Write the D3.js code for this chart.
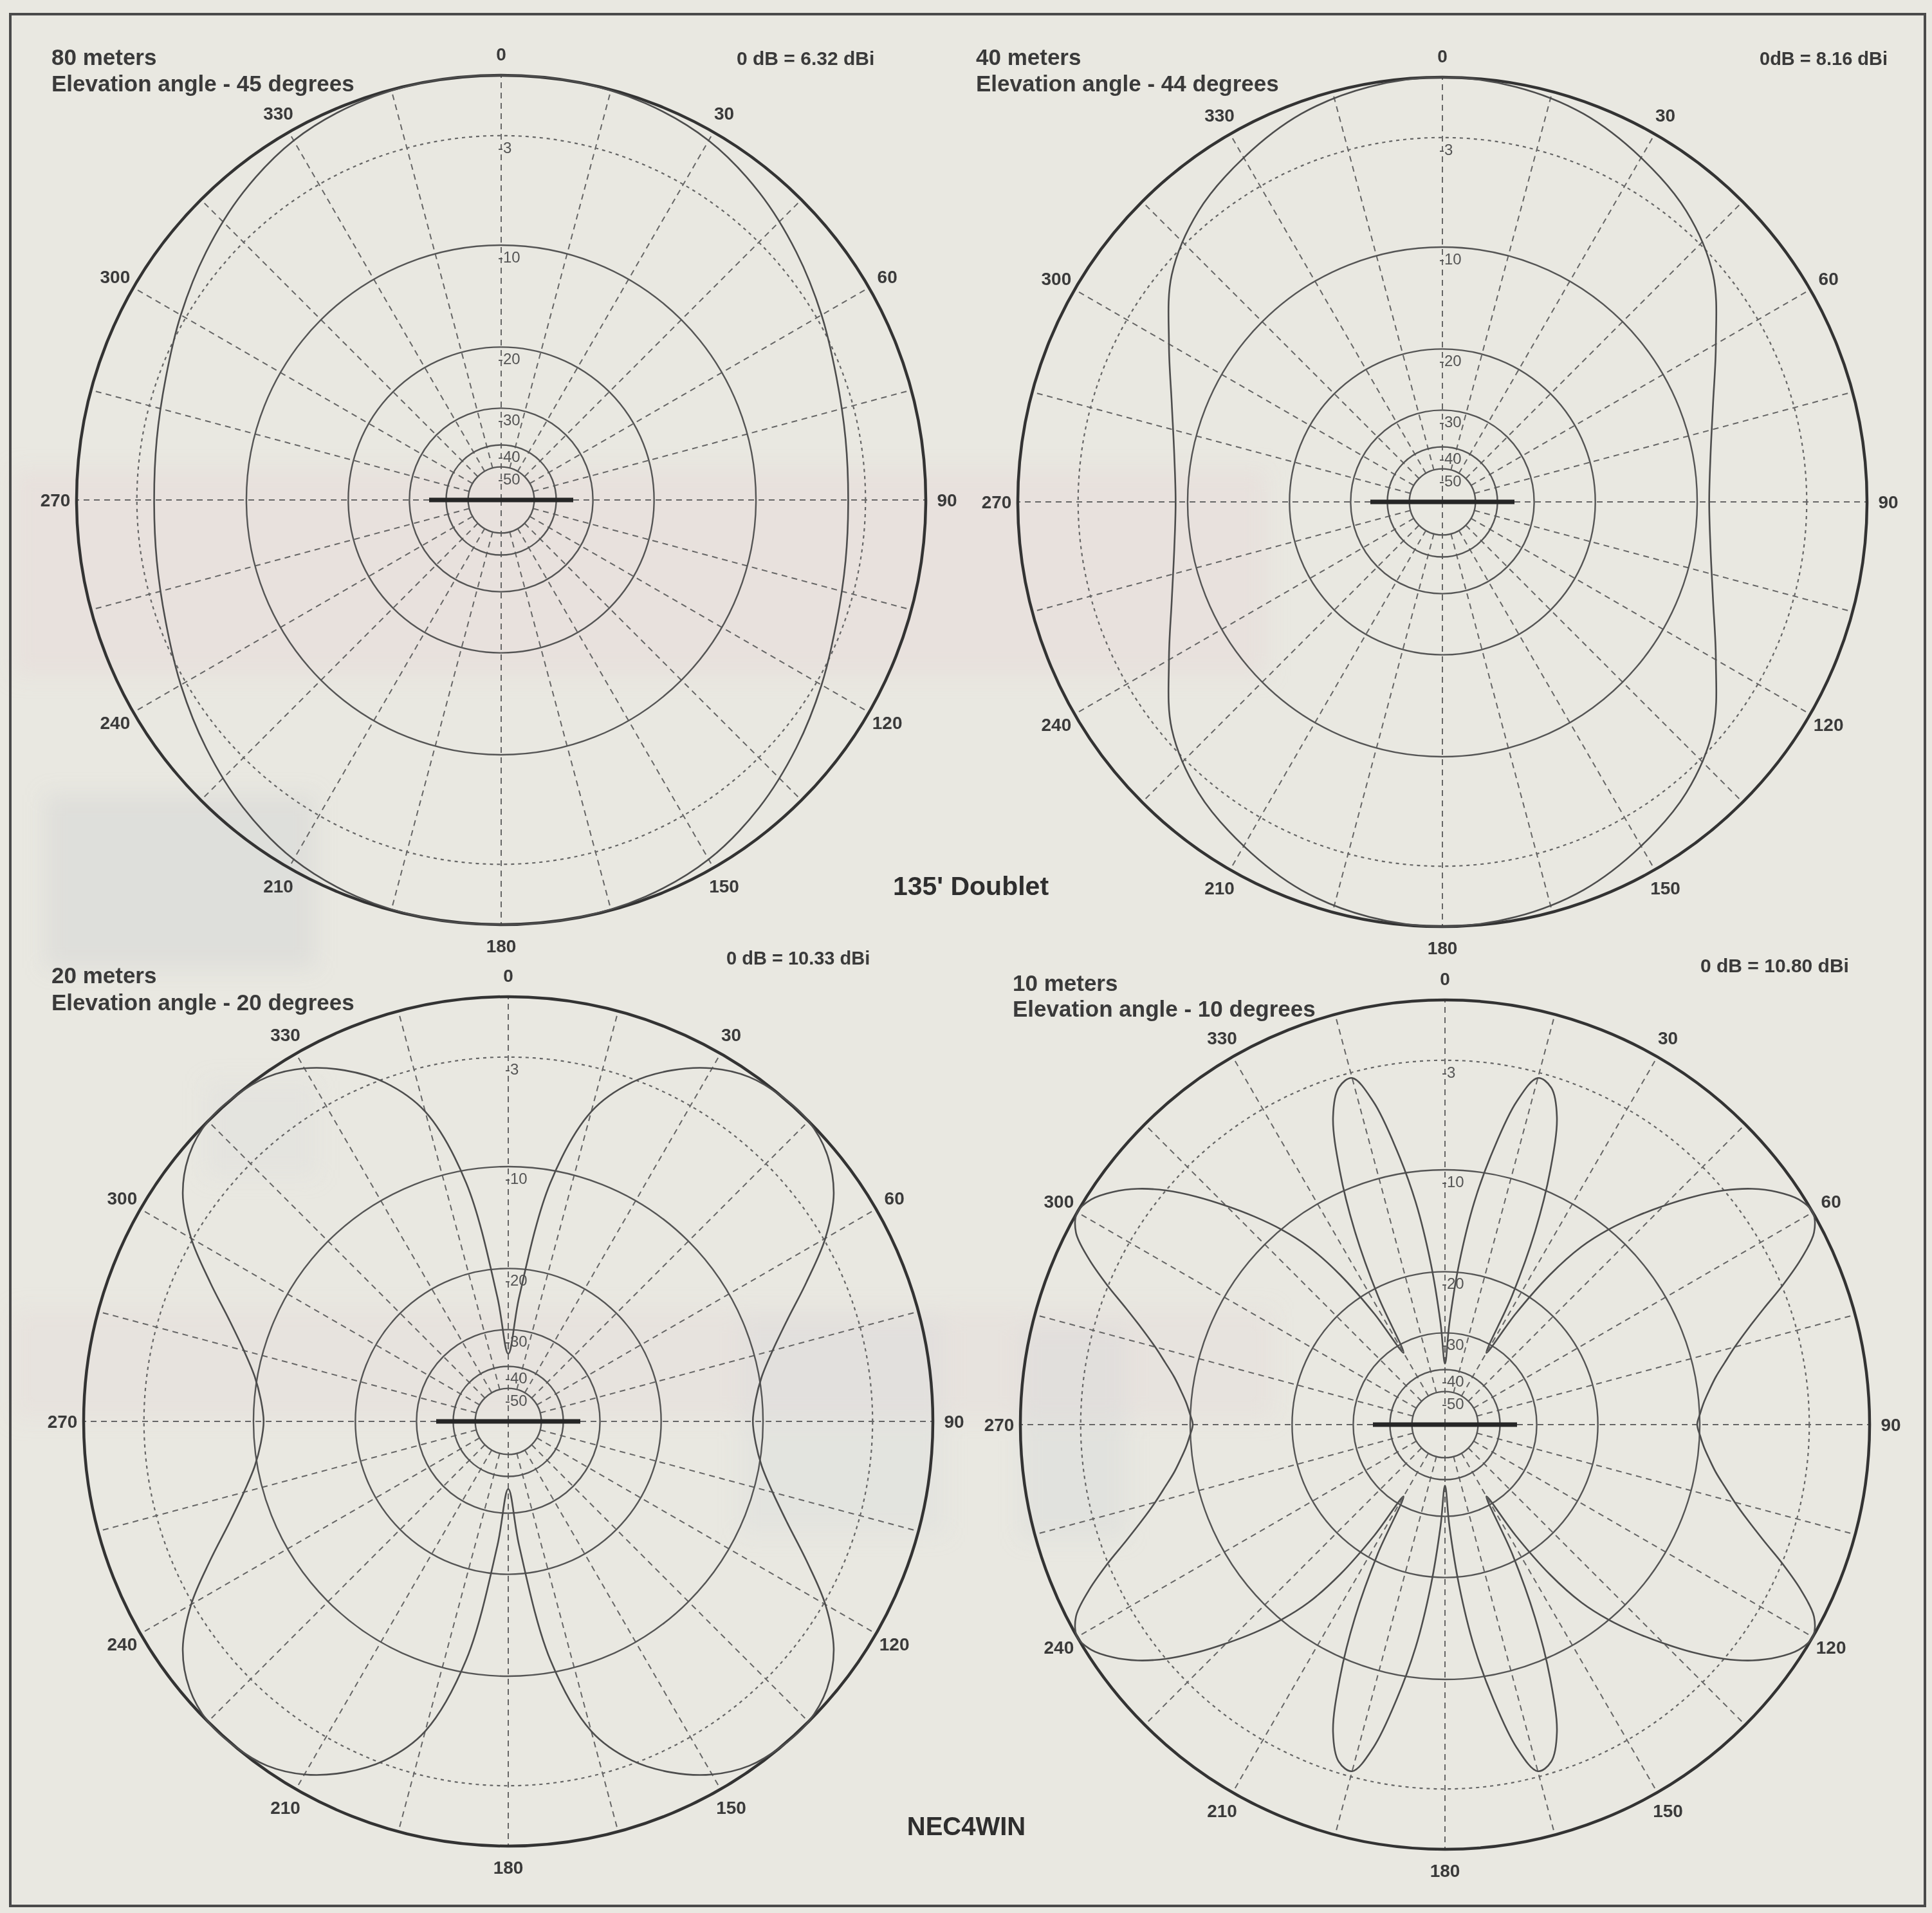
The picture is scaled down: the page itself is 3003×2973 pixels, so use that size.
<!DOCTYPE html>
<html>
<head>
<meta charset="utf-8">
<script src="https://cdn.jsdelivr.net/npm/d3@7"></script>
<style>
  html, body { margin: 0; padding: 0; background: #e9e8e1; }
  svg { display: block; }
</style>
</head>
<body>
<svg id="chart" width="3003" height="2973"></svg>
<script>
// ---------------------------------------------------------------------------
// Azimuth patterns of a 135' doublet, computed with NEC4WIN, one panel per band.
// Gains are in dB relative to each band's maximum (0 dB ring).
// ---------------------------------------------------------------------------

const figureTitle = "135' Doublet";
const softwareName = "NEC4WIN";

const bandNames  = ["80 meters", "40 meters", "20 meters", "10 meters"];
const elevations = ["Elevation angle - 45 degrees", "Elevation angle - 44 degrees",
                    "Elevation angle - 20 degrees", "Elevation angle - 10 degrees"];
const zeroRefs   = ["0 dB = 6.32 dBi", "0dB = 8.16 dBi", "0 dB = 10.33 dBi", "0 dB = 10.80 dBi"];

// Grid: level rings (dB) and azimuth ticks (degrees, 0 = top, clockwise)
const ringLevels   = [-3, -10, -20, -30, -40, -50];
const ringLabels   = ["-3", "-10", "-20", "-30", "-40", "-50"];
const spokeAngles  = [0, 15, 30, 45, 60, 75, 90, 105, 120, 135, 150, 165,
                      180, 195, 210, 225, 240, 255, 270, 285, 300, 315, 330, 345];
const azimuthTicks = [0, 30, 60, 90, 120, 150, 180, 210, 240, 270, 300, 330];

// Each pattern is symmetric about both axes: one quadrant (0..90 deg) is listed.
const az80   = [0, 10, 20, 30, 40, 50, 60, 70, 80, 90];
const gain80 = [0, 0, -0.12, -0.45, -1.1, -1.9, -2.7, -3.4, -3.8, -3.95];

const az40   = [0, 10, 20, 30, 40, 50, 60, 70, 80, 90];
const gain40 = [0, -0.15, -0.55, -1.3, -2.2, -3.6, -5.8, -7.6, -8.7, -9.1];

const az20   = [0, 5, 10, 15, 20, 25, 30, 35, 40, 45, 50, 55, 60, 65, 70, 75, 80, 85, 90];
const gain20 = [-36, -24, -11, -5.5, -3.2, -1.8, -0.8, -0.2, 0, 0, -0.4, -1.3,
                -2.9, -5, -7, -8.6, -9.8, -10.5, -10.8];

const az10   = [0, 2.5, 5, 7.5, 10, 12.5, 15, 17.5, 20, 22.5, 25, 27.5, 30, 32.5, 35, 37.5,
                40, 42.5, 45, 47.5, 50, 52.5, 55, 57.5, 60, 62.5, 65, 67.5, 70, 72.5, 75,
                77.5, 80, 82.5, 85, 87.5, 90];
const gain10 = [-38, -28, -19, -12.5, -8.2, -4.9, -3.3, -3.6, -5.1, -8.5, -13.5, -21, -32,
                -23, -16.5, -12.5, -10, -8, -6.2, -4.5, -3.0, -1.8, -0.9, -0.25, 0, -0.4,
                -1.5, -2.9, -4.4, -5.7, -6.8, -7.7, -8.5, -9.1, -9.6, -9.95, -10.2];

const patternAz    = [az80, az40, az20, az10];
const patternGains = [gain80, gain40, gain20, gain10];

// ---------------------------------------------------------------------------
// Layout
// ---------------------------------------------------------------------------
const R = 660;                       // radius of the 0 dB ring
const panels = [
  { cx: 779,  cy: 777,  name: [80, 101],    elev: [80, 142],    ref: [1145, 101], refSize: 30 },
  { cx: 2242, cy: 780,  name: [1517, 101],  elev: [1517, 142],  ref: [2735, 101], refSize: 29 },
  { cx: 790,  cy: 2209, name: [80, 1528],   elev: [80, 1570],   ref: [1129, 1499], refSize: 29 },
  { cx: 2246, cy: 2214, name: [1574, 1540], elev: [1574, 1580], ref: [2643, 1511], refSize: 30 }
];

// faint tone patches of the printed page showing through behind the figure
const paperTones = [
  { x: 20,   y: 730,  w: 1950, h: 320, fill: "#e6d6d6", op: 0.4 },
  { x: 70,   y: 1235, w: 420,  h: 270, fill: "#c8cacd", op: 0.3 },
  { x: 20,   y: 2035, w: 1960, h: 170, fill: "#e6d6d6", op: 0.3 },
  { x: 1150, y: 2045, w: 320,  h: 340, fill: "#d3d7dc", op: 0.25 },
  { x: 1586, y: 2062, w: 166,  h: 330, fill: "#cfd3d8", op: 0.3 },
  { x: 318,  y: 1680, w: 175,  h: 150, fill: "#d6d9dd", op: 0.25 }
];

const sans = "'Liberation Sans', Arial, Helvetica, sans-serif";

// Radial scale: rings are spaced as power-ratio ^ 0.222 (each 10 dB = 0.6 x radius)
const rScale = d3.scalePow().exponent(0.2218).domain([0, 1]).range([0, R]);
const radiusOf = db => rScale(Math.pow(10, db / 10));
const rad = deg => deg * Math.PI / 180;

// Mirror one quadrant into a full 0..360 trace
function fullCircle(az, g) {
  const pts = [];
  for (let i = 0; i < az.length; i++) pts.push([az[i], g[i]]);
  for (let i = az.length - 2; i >= 0; i--) pts.push([180 - az[i], g[i]]);
  for (let i = 1; i < az.length; i++) pts.push([180 + az[i], g[i]]);
  for (let i = az.length - 2; i > 0; i--) pts.push([360 - az[i], g[i]]);
  return pts;
}

const svg = d3.select("#chart");

const defs = svg.append("defs");
defs.append("filter").attr("id", "soft")
  .attr("x", "-20%").attr("y", "-20%").attr("width", "140%").attr("height", "140%")
  .append("feGaussianBlur").attr("stdDeviation", 16);

svg.append("g").attr("filter", "url(#soft)")
  .selectAll("rect").data(paperTones).join("rect")
  .attr("x", d => d.x).attr("y", d => d.y).attr("width", d => d.w).attr("height", d => d.h)
  .attr("fill", d => d.fill).attr("opacity", d => d.op);

// page frame
svg.append("rect")
  .attr("x", 16).attr("y", 22).attr("width", 2976).attr("height", 2940)
  .attr("fill", "none").attr("stroke", "#4a4a4a").attr("stroke-width", 4);

const patternLine = d3.lineRadial()
  .angle(d => rad(d[0]))
  .radius(d => radiusOf(d[1]))
  .curve(d3.curveCatmullRomClosed.alpha(0.5));

panels.forEach((p, i) => {
  const g = svg.append("g").attr("transform", `translate(${p.cx},${p.cy})`);

  // radial spokes every 15 degrees (dashed)
  g.selectAll("line.spoke").data(spokeAngles).join("line")
    .attr("class", "spoke")
    .attr("x1", a => (a % 90 === 0 ? 0 : radiusOf(-50)) * Math.sin(rad(a)))
    .attr("y1", a => -(a % 90 === 0 ? 0 : radiusOf(-50)) * Math.cos(rad(a)))
    .attr("x2", a => R * Math.sin(rad(a)))
    .attr("y2", a => -R * Math.cos(rad(a)))
    .attr("stroke", "#666").attr("stroke-width", 2)
    .attr("stroke-dasharray", "9 7");

  // level rings
  g.selectAll("circle.ring").data(ringLevels).join("circle")
    .attr("class", "ring")
    .attr("r", d => radiusOf(d))
    .attr("fill", "none")
    .attr("stroke", d => d === -3 ? "#666" : "#555")
    .attr("stroke-width", d => d === -3 ? 2.2 : 2.4)
    .attr("stroke-dasharray", d => d === -3 ? "5 6" : null);

  // 0 dB ring
  g.append("circle").attr("r", R)
    .attr("fill", "none").attr("stroke", "#333").attr("stroke-width", 4.5);

  // ring labels on the vertical axis
  g.selectAll("text.ringlab").data(ringLevels).join("text")
    .attr("class", "ringlab")
    .attr("x", -5)
    .attr("y", d => -radiusOf(d) + 27)
    .attr("font-family", sans).attr("font-size", 24)
    .attr("fill", "#555")
    .text((d, j) => ringLabels[j]);

  // azimuth labels
  g.selectAll("text.az").data(azimuthTicks).join("text")
    .attr("class", "az")
    .attr("x", a => (R + 33) * Math.sin(rad(a)))
    .attr("y", a => -(R + 33) * Math.cos(rad(a)))
    .attr("text-anchor", "middle").attr("dominant-baseline", "central")
    .attr("font-family", sans).attr("font-weight", "bold").attr("font-size", 28)
    .attr("fill", "#3a3a3a")
    .text(a => a);

  // radiation pattern
  g.append("path")
    .datum(fullCircle(patternAz[i], patternGains[i]))
    .attr("d", patternLine)
    .attr("fill", "none").attr("stroke", "#4d4d4d").attr("stroke-width", 2.6)
    .attr("stroke-linejoin", "round");

  // the antenna wire
  g.append("line")
    .attr("x1", -112).attr("x2", 112).attr("y1", 0).attr("y2", 0)
    .attr("stroke", "#262626").attr("stroke-width", 7);

  // panel captions
  svg.append("text").attr("x", p.name[0]).attr("y", p.name[1])
    .attr("font-family", sans).attr("font-weight", "bold").attr("font-size", 35)
    .attr("fill", "#3a3a3a").text(bandNames[i]);
  svg.append("text").attr("x", p.elev[0]).attr("y", p.elev[1])
    .attr("font-family", sans).attr("font-weight", "bold").attr("font-size", 35)
    .attr("fill", "#3a3a3a").text(elevations[i]);
  svg.append("text").attr("x", p.ref[0]).attr("y", p.ref[1])
    .attr("font-family", sans).attr("font-weight", "bold").attr("font-size", p.refSize)
    .attr("fill", "#3a3a3a").text(zeroRefs[i]);
});

// figure captions
svg.append("text").attr("x", 1509).attr("y", 1391).attr("text-anchor", "middle")
  .attr("font-family", sans).attr("font-weight", "bold").attr("font-size", 41)
  .attr("fill", "#2e2e2e").text(figureTitle);
svg.append("text").attr("x", 1502).attr("y", 2852).attr("text-anchor", "middle")
  .attr("font-family", sans).attr("font-weight", "bold").attr("font-size", 40)
  .attr("fill", "#2e2e2e").text(softwareName);
</script>
</body>
</html>
